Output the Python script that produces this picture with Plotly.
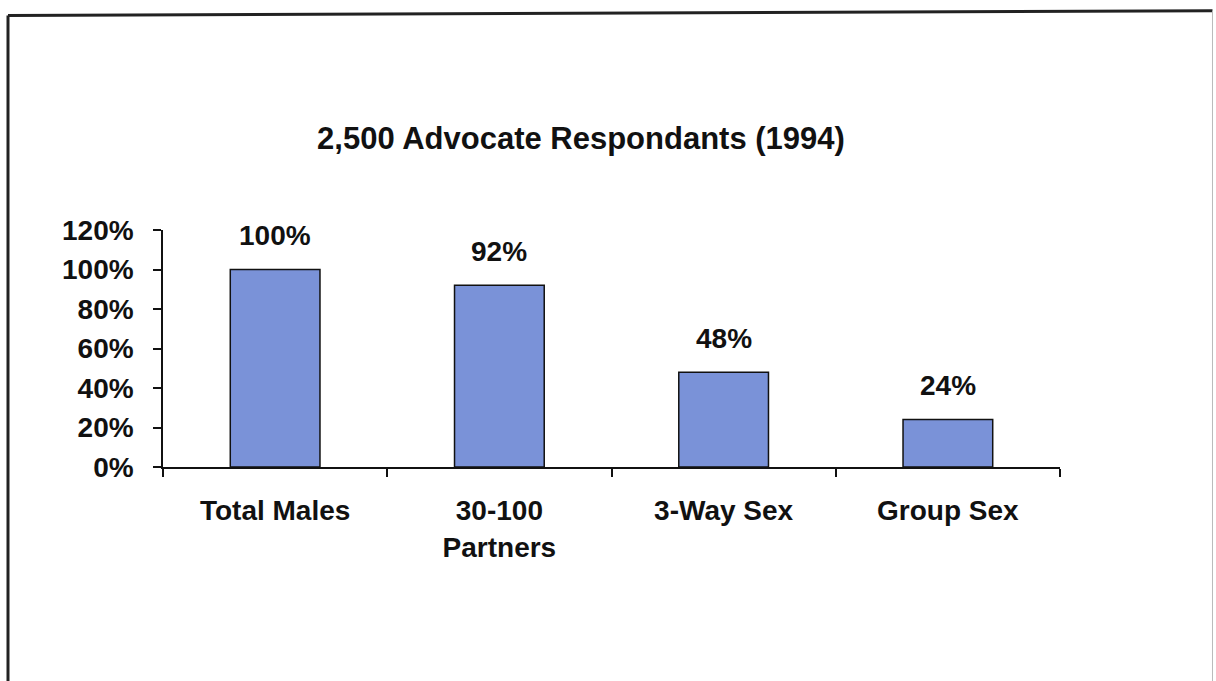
import plotly.graph_objects as go

categories = ["Total Males", "30-100<br>Partners", "3-Way Sex", "Group Sex"]
values = [100, 92, 48, 24]
value_labels = ["100%", "92%", "48%", "24%"]
y_ticks = [0, 20, 40, 60, 80, 100, 120]
y_tick_labels = ["0%", "20%", "40%", "60%", "80%", "100%", "120%"]
title_text = "2,500 Advocate Respondants (1994)"

FONT = "Arial, 'Liberation Sans', sans-serif"

fig = go.Figure()
fig.add_trace(go.Bar(
    x=categories, y=values, width=0.4,
    marker=dict(color="#7a92d8", line=dict(color="#111111", width=1.5)),
    hoverinfo="skip",
))

for c, v, t in zip(categories, values, value_labels):
    fig.add_annotation(x=c, y=v, text="<b>%s</b>" % t, showarrow=False,
                       yanchor="middle", yshift=34,
                       font=dict(family=FONT, size=28, color="#111111"))

# outer border (scanned page frame)
fig.add_shape(type="line", xref="paper", yref="paper", x0=-0.1728, x1=-0.1728, y0=1.905, y1=-1.2,
              line=dict(color="#222222", width=3))
fig.add_shape(type="line", xref="paper", yref="paper", x0=-0.1728, x1=1.17, y0=1.905, y1=1.925,
              line=dict(color="#222222", width=3))
fig.add_shape(type="line", xref="paper", yref="paper", x0=1.17, x1=1.17, y0=1.925, y1=-1.2,
              line=dict(color="#bbbbbb", width=1))

fig.update_layout(
    width=1216, height=681,
    margin=dict(l=163, r=156, t=230, b=214),
    paper_bgcolor="white", plot_bgcolor="white",
    showlegend=False,
    bargap=0.6,
    title=dict(text="<b>%s</b>" % title_text, x=581/1216, xref="container", xanchor="center",
               y=1-138/681, yref="container", yanchor="middle",
               font=dict(family=FONT, size=31, color="#111111")),
    font=dict(family=FONT, color="#111111"),
)
fig.update_xaxes(
    type="category", showline=True, linecolor="#111111", linewidth=1.5,
    ticks="outside", tickson="boundaries", ticklen=8, tickwidth=1.5, tickcolor="#111111",
    tickfont=dict(family=FONT, size=28, color="#111111"),
    ticklabelstandoff=18, showgrid=False, zeroline=False,
    tickprefix="<b>", ticksuffix="</b>",
)
fig.update_yaxes(
    range=[0, 120], tickvals=y_ticks, ticktext=["<b>%s</b>" % s for s in y_tick_labels],
    showline=True, linecolor="#111111", linewidth=1.5,
    ticks="outside", ticklen=8, tickwidth=1.5, tickcolor="#111111",
    tickfont=dict(family=FONT, size=28, color="#111111"),
    ticklabelstandoff=14, showgrid=False, zeroline=False,
)

fig.write_html("out.html", config={"displayModeBar": False},
               post_script="document.body.style.margin='0';document.body.style.overflow='hidden';")
